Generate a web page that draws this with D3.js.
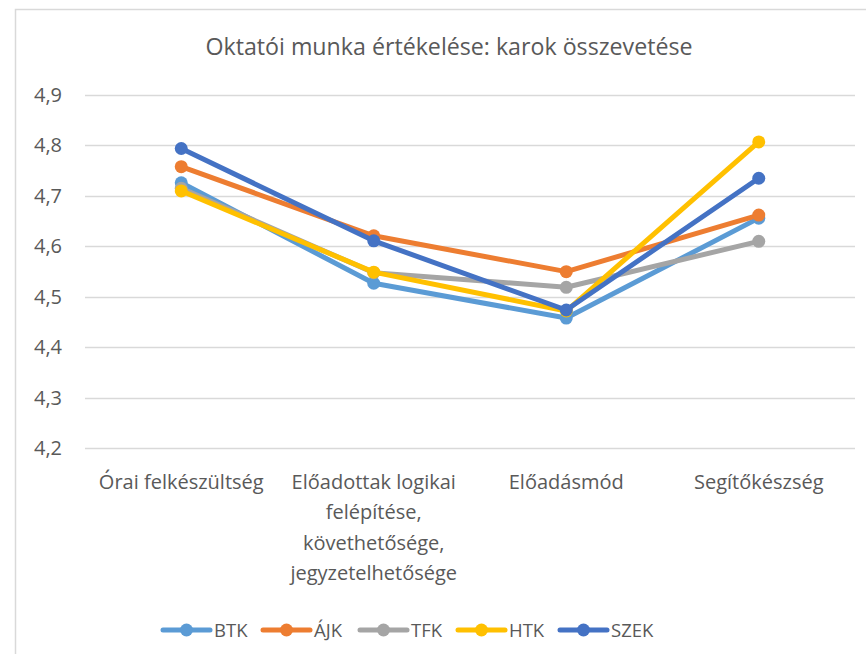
<!DOCTYPE html>
<html>
<head>
<meta charset="utf-8">
<script src="https://cdn.jsdelivr.net/npm/d3@7"></script>
<style>
  body { margin: 0; background: #fff; }
  text { font-family: "Open Sans", Lato, sans-serif; fill: #595959; }
</style>
</head>
<body>
<script>
// categories (multi-line labels split by |)
var categories = ["Órai felkészültség",
  "Előadottak logikai|felépítése,|követhetősége,|jegyzetelhetősége",
  "Előadásmód",
  "Segítőkészség"];

var seriesNames = ["BTK", "ÁJK", "TFK", "HTK", "SZEK"];
var seriesColors = ["#5B9BD5", "#ED7D31", "#A5A5A5", "#FFC000", "#4472C4"];

var btk  = [4.726, 4.527, 4.458, 4.656];
var ajk  = [4.758, 4.621, 4.550, 4.662];
var tfk  = [4.715, 4.548, 4.519, 4.610];
var htk  = [4.710, 4.549, 4.472, 4.807];
var szek = [4.794, 4.611, 4.474, 4.735];

var yTicks = [4.2, 4.3, 4.4, 4.5, 4.6, 4.7, 4.8, 4.9];

var allSeries = [btk, ajk, tfk, htk, szek];

var width = 866, height = 654;
var svg = d3.select("body").append("svg")
    .attr("width", width)
    .attr("height", height);

// chart frame
svg.append("path")
    .attr("d", "M15.5," + height + "V9.5H" + width)
    .attr("fill", "none")
    .attr("stroke", "#d9d9d9")
    .attr("stroke-width", 1.5);

// title
svg.append("text")
    .attr("x", 449)
    .attr("y", 55)
    .attr("text-anchor", "middle")
    .style("font-size", "23.2px")
    .text("Oktatói munka értékelése: karok összevetése");

var x = d3.scaleBand()
    .domain(d3.range(categories.length))
    .range([85, 855]);

var y = d3.scaleLinear()
    .domain([4.2, 4.9])
    .range([448.3, 95]);

// gridlines
svg.append("g")
  .selectAll("line")
  .data(yTicks)
  .enter()
  .append("line")
    .attr("x1", 85)
    .attr("x2", 855)
    .attr("y1", d => Math.round(y(d)) + 0.5)
    .attr("y2", d => Math.round(y(d)) + 0.5)
    .attr("stroke", "#d9d9d9")
    .attr("stroke-width", 1.3);

// y tick labels
svg.append("g")
  .selectAll("text")
  .data(yTicks)
  .enter()
  .append("text")
    .attr("x", 62)
    .attr("y", d => y(d) + 7)
    .attr("text-anchor", "end")
    .style("font-size", "20px")
    .text(d => d3.format(".1f")(d).replace(".", ","));

// category labels
var catG = svg.append("g")
  .selectAll("text")
  .data(categories)
  .enter()
  .append("text")
    .attr("text-anchor", "middle")
    .style("font-size", "20px");

catG.each(function(d, i) {
  var t = d3.select(this);
  d.split("|").forEach(function(line, k) {
    t.append("tspan")
      .attr("x", x(i) + x.bandwidth() / 2)
      .attr("y", 489 + k * 30.3)
      .text(line);
  });
});

// lines
var line = d3.line()
    .x((d, i) => x(i) + x.bandwidth() / 2)
    .y(d => y(d));

allSeries.forEach(function(s, si) {
  var g = svg.append("g");
  g.append("path")
    .datum(s)
    .attr("d", line)
    .attr("fill", "none")
    .attr("stroke", seriesColors[si])
    .attr("stroke-width", 5)
    .attr("stroke-linejoin", "round")
    .attr("stroke-linecap", "round");
  g.selectAll("circle")
    .data(s)
    .enter()
    .append("circle")
      .attr("cx", (d, i) => x(i) + x.bandwidth() / 2)
      .attr("cy", d => y(d))
      .attr("r", 6.5)
      .attr("fill", seriesColors[si]);
});

// legend
var legendX = [163, 263, 360, 458, 560];
var leg = svg.append("g")
  .selectAll("g")
  .data(seriesNames)
  .enter()
  .append("g")
    .attr("transform", (d, i) => "translate(" + legendX[i] + ",630)");

leg.append("line")
    .attr("x1", 0).attr("x2", 47)
    .attr("stroke", (d, i) => seriesColors[i])
    .attr("stroke-width", 5)
    .attr("stroke-linecap", "round");
leg.append("circle")
    .attr("cx", 23.5)
    .attr("r", 6.5)
    .attr("fill", (d, i) => seriesColors[i]);
leg.append("text")
    .attr("x", 51)
    .attr("y", 7)
    .style("font-size", "18.5px")
    .text(d => d);
</script>
</body>
</html>
